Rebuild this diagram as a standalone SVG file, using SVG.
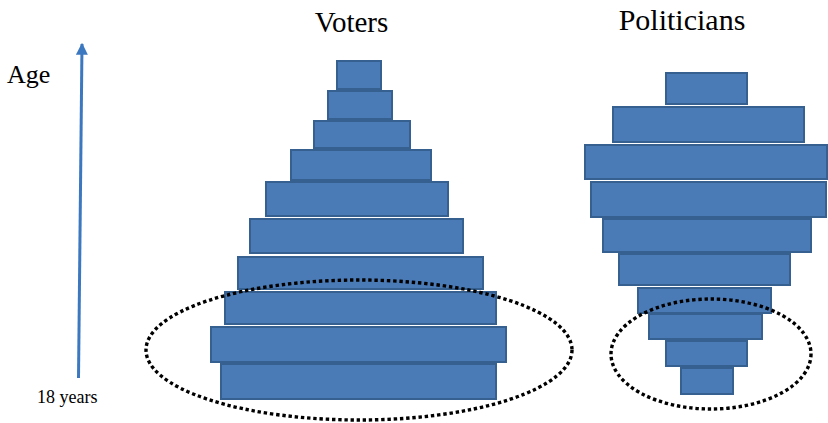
<svg xmlns="http://www.w3.org/2000/svg" width="828" height="423" viewBox="0 0 828 423">
<defs>
<style>
.bar{fill:#4a7bb6;stroke:#36608f;stroke-width:2}
.ring{fill:none;stroke:#000;stroke-width:3.4;stroke-dasharray:3.4 2.8}
text{font-family:'Liberation Serif','Times New Roman','DejaVu Serif',serif;fill:#000}
</style>
<marker id="ah" viewBox="0 0 10 10" refX="9" refY="5" markerWidth="4" markerHeight="4" orient="auto">
<path d="M0,0 L10,5 L0,10 z" fill="#3c78c0"/>
</marker>
</defs>
<rect width="828" height="423" fill="#fff"/>
<g id="labels">
<text x="351.5" y="32" font-size="29" text-anchor="middle">Voters</text>
<text x="682" y="30" font-size="30" text-anchor="middle">Politicians</text>
<text x="7" y="83" font-size="26">Age</text>
<text x="37" y="403" font-size="18">18 years</text>
</g>
<g id="connectors">
<line x1="78.5" y1="378" x2="82" y2="44" stroke="#3c78c0" stroke-width="3" marker-end="url(#ah)"/>
</g>
<g id="voters">
<rect class="bar" x="337" y="61" width="44" height="28"/>
<rect class="bar" x="328" y="91" width="64" height="28"/>
<rect class="bar" x="314" y="121" width="96" height="27"/>
<rect class="bar" x="291" y="150" width="140" height="30"/>
<rect class="bar" x="266" y="182" width="182" height="34"/>
<rect class="bar" x="250" y="219" width="213" height="34"/>
<rect class="bar" x="238" y="257" width="245" height="32"/>
<rect class="bar" x="225" y="292" width="271" height="32"/>
<rect class="bar" x="211" y="327" width="295" height="35"/>
<rect class="bar" x="221" y="364" width="275" height="35"/>
</g>
<g id="politicians">
<rect class="bar" x="666" y="73" width="81" height="31"/>
<rect class="bar" x="613" y="107" width="191" height="35"/>
<rect class="bar" x="585" y="145" width="242" height="34"/>
<rect class="bar" x="591" y="182" width="235" height="35"/>
<rect class="bar" x="603" y="219" width="208" height="33"/>
<rect class="bar" x="619" y="254" width="171" height="31"/>
<rect class="bar" x="638" y="288" width="133" height="25"/>
<rect class="bar" x="649" y="314" width="113" height="25"/>
<rect class="bar" x="666" y="341" width="81" height="25"/>
<rect class="bar" x="681" y="368" width="52" height="26"/>
</g>
<g id="voters-ring">
<ellipse class="ring" cx="359" cy="350" rx="213" ry="70"/>
</g>
<g id="politicians-ring">
<ellipse class="ring" cx="711" cy="354" rx="100" ry="55"/>
</g>
</svg>
